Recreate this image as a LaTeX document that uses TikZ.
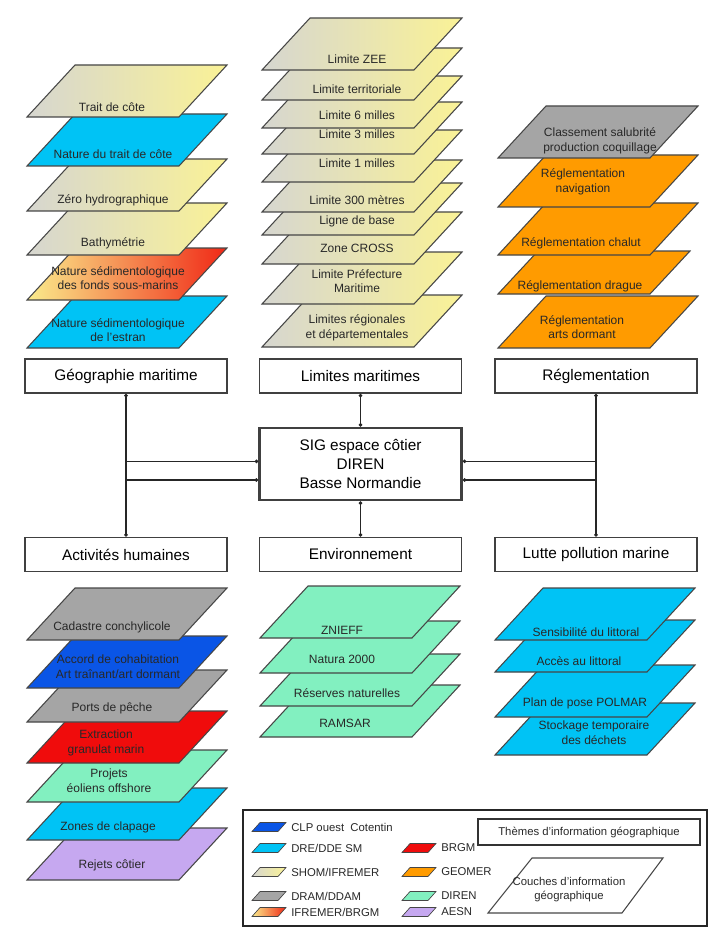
\documentclass[tikz,border=0pt]{standalone}
\usepackage{fontspec}
\setmainfont{Liberation Sans}
\usetikzlibrary{positioning}
\usetikzlibrary{arrows.meta}
\usepackage{xcolor}

\definecolor{cyanL}{RGB}{0,195,245}
\definecolor{blueL}{RGB}{10,85,230}
\definecolor{grayL}{RGB}{165,165,165}
\definecolor{redL}{RGB}{240,12,12}
\definecolor{greenL}{RGB}{130,240,192}
\definecolor{purpleL}{RGB}{198,168,240}
\definecolor{orangeL}{RGB}{255,155,0}
\definecolor{shomL}{RGB}{214,214,208}
\definecolor{shomR}{RGB}{250,242,150}
\definecolor{ifrL}{RGB}{250,236,140}
\definecolor{ifrR}{RGB}{240,40,22}
\definecolor{edgegray}{RGB}{70,70,70}
\definecolor{txtgray}{RGB}{40,40,40}

\begin{document}
\begin{tikzpicture}[x=0.75pt,y=0.75pt,yscale=-1,xscale=1,
  layer/.style={draw=edgegray, line width=0.8pt},
  shomfill/.style={left color=shomL, right color=shomR},
  ifrfill/.style={left color=ifrL, right color=ifrR},
  ltext/.style={inner sep=0.75pt, align=center, text=txtgray, font=\fontsize{9}{11}\selectfont},
  theme/.style={draw=black!75, line width=1.2pt, fill=white, minimum width=151.5pt, minimum height=25.5pt, inner sep=1pt, align=center, font=\fontsize{11.5}{14.5}\selectfont},
  conn/.style={draw=black!85, line width=0.9pt, arrows={Circle[length=2.6pt]-Circle[length=2.6pt]}},
  swatch/.style={draw=edgegray, line width=0.5pt},
  legtext/.style={anchor=west, inner sep=0.75pt, text=txtgray, font=\fontsize{8.5}{10}\selectfont}]
\useasboundingbox (0,0) rectangle (709,927);

%%%%%%%% Geographie maritime layers
%Shape: Parallelogram
\draw [layer, fill=cyanL] (27,348) -- ++(152,0) -- ++(48,-52) -- ++(-152,0) -- cycle ;
% Text Node
\node [ltext] (estran) at (118,330) {Nature sédimentologique\\de l'estran};
%Shape: Parallelogram
\draw [layer, ifrfill] (27,300) -- ++(152,0) -- ++(48,-52) -- ++(-152,0) -- cycle ;
% Text Node
\node [ltext] (fonds) at (118,278) {Nature sédimentologique\\des fonds sous-marins};
%Shape: Parallelogram
\draw [layer, shomfill] (27,255) -- ++(152,0) -- ++(48,-52) -- ++(-152,0) -- cycle ;
% Text Node
\node [ltext] (bathy) at (113,243) {Bathymétrie};
%Shape: Parallelogram
\draw [layer, shomfill] (27,211) -- ++(152,0) -- ++(48,-52) -- ++(-152,0) -- cycle ;
% Text Node
\node [ltext] (zerohydro) at (113,200) {Zéro hydrographique};
%Shape: Parallelogram
\draw [layer, fill=cyanL] (27,166) -- ++(152,0) -- ++(48,-52) -- ++(-152,0) -- cycle ;
% Text Node
\node [ltext] (naturetrait) at (113,154) {Nature du trait de côte};
%Shape: Parallelogram
\draw [layer, shomfill] (27,117) -- ++(152,0) -- ++(48,-52) -- ++(-152,0) -- cycle ;
% Text Node
\node [ltext] (traitcote) at (112,107) {Trait de côte};

%%%%%%%% Limites maritimes layers
%Shape: Parallelogram
\draw [layer, shomfill] (262,347) -- ++(152,0) -- ++(48,-52) -- ++(-152,0) -- cycle ;
% Text Node
\node [ltext] (limreg) at (357,328) {Limites régionales\\et départementales};
%Shape: Parallelogram
\draw [layer, shomfill] (262,304) -- ++(152,0) -- ++(48,-52) -- ++(-152,0) -- cycle ;
% Text Node
\node [ltext] (limpref) at (357,281) {Limite Préfecture\\Maritime};
%Shape: Parallelogram
\draw [layer, shomfill] (262,264) -- ++(152,0) -- ++(48,-52) -- ++(-152,0) -- cycle ;
% Text Node
\node [ltext] (cross) at (357,248) {Zone CROSS};
%Shape: Parallelogram
\draw [layer, shomfill] (262,235) -- ++(152,0) -- ++(48,-52) -- ++(-152,0) -- cycle ;
% Text Node
\node [ltext] (lignebase) at (357,221) {Ligne de base};
%Shape: Parallelogram
\draw [layer, shomfill] (262,212) -- ++(152,0) -- ++(48,-52) -- ++(-152,0) -- cycle ;
% Text Node
\node [ltext] (lim300) at (357,200) {Limite 300 mètres};
%Shape: Parallelogram
\draw [layer, shomfill] (262,182) -- ++(152,0) -- ++(48,-52) -- ++(-152,0) -- cycle ;
% Text Node
\node [ltext] (lim1) at (357,163) {Limite 1 milles};
%Shape: Parallelogram
\draw [layer, shomfill] (262,154) -- ++(152,0) -- ++(48,-52) -- ++(-152,0) -- cycle ;
% Text Node
\node [ltext] (lim3) at (357,134) {Limite 3 milles};
%Shape: Parallelogram
\draw [layer, shomfill] (262,128) -- ++(152,0) -- ++(48,-52) -- ++(-152,0) -- cycle ;
% Text Node
\node [ltext] (lim6) at (357,115) {Limite 6 milles};
%Shape: Parallelogram
\draw [layer, shomfill] (262,100) -- ++(152,0) -- ++(48,-52) -- ++(-152,0) -- cycle ;
% Text Node
\node [ltext] (limterr) at (357,89) {Limite territoriale};
%Shape: Parallelogram
\draw [layer, shomfill] (262,70) -- ++(152,0) -- ++(48,-52) -- ++(-152,0) -- cycle ;
% Text Node
\node [ltext] (limzee) at (357,59) {Limite ZEE};

%%%%%%%% Reglementation layers
%Shape: Parallelogram
\draw [layer, fill=orangeL] (498,348) -- ++(152,0) -- ++(48,-52) -- ++(-152,0) -- cycle ;
% Text Node
\node [ltext] (arts) at (582,327) {Réglementation\\arts dormant};
%Shape: Parallelogram
\draw [layer, fill=orangeL] (498,294) -- ++(152,0) -- ++(40,-43) -- ++(-152,0) -- cycle ;
% Text Node
\node [ltext] (drague) at (580,286) {Réglementation drague};
%Shape: Parallelogram
\draw [layer, fill=orangeL] (498,255) -- ++(152,0) -- ++(48,-52) -- ++(-152,0) -- cycle ;
% Text Node
\node [ltext] (chalut) at (581,243) {Réglementation chalut};
%Shape: Parallelogram
\draw [layer, fill=orangeL] (498,207) -- ++(152,0) -- ++(48,-52) -- ++(-152,0) -- cycle ;
% Text Node
\node [ltext] (navig) at (583,182) {Réglementation\\navigation};
%Shape: Parallelogram
\draw [layer, fill=grayL] (498,158) -- ++(152,0) -- ++(48,-52) -- ++(-152,0) -- cycle ;
% Text Node
\node [ltext] (classement) at (600,141) {Classement salubrité\\production coquillage};

%%%%%%%% themes and central box
% Text Node
\node [theme] (geo) at (126,376) {Géographie maritime};
% Text Node
\node [theme] (lim) at (360.5,376) {Limites maritimes};
% Text Node
\node [theme] (regl) at (596,376) {Réglementation};
% Text Node
\node [theme, line width=2pt, minimum height=54pt] (sig) at (360.5,464) {SIG espace côtier\\DIREN\\Basse Normandie};
% Text Node
\node [theme] (act) at (126,554.5) {Activités humaines};
% Text Node
\node [theme] (env) at (360.5,554.5) {Environnement};
% Text Node
\node [theme] (lutte) at (596,554.5) {Lutte pollution marine};

%Straight Lines
\draw [conn] (geo.south) |- ([yshift=12pt]sig.west) ;
\draw [conn] ([yshift=-2pt]sig.west) -| (act.north) ;
\draw [conn] (lim.south) -- (sig.north) ;
\draw [conn] (sig.south) -- (env.north) ;
\draw [conn] (regl.south) |- ([yshift=12pt]sig.east) ;
\draw [conn] ([yshift=-2pt]sig.east) -| (lutte.north) ;

%%%%%%%% Activites humaines layers
%Shape: Parallelogram
\draw [layer, fill=purpleL] (27,880) -- ++(152,0) -- ++(48,-52) -- ++(-152,0) -- cycle ;
% Text Node
\node [ltext] (rejets) at (112,865) {Rejets côtier};
%Shape: Parallelogram
\draw [layer, fill=cyanL] (27,840) -- ++(152,0) -- ++(48,-52) -- ++(-152,0) -- cycle ;
% Text Node
\node [ltext] (clapage) at (108,827) {Zones de clapage};
%Shape: Parallelogram
\draw [layer, fill=greenL] (27,802) -- ++(152,0) -- ++(48,-52) -- ++(-152,0) -- cycle ;
% Text Node
\node [ltext] (eoliens) at (109,781) {Projets\\éoliens offshore};
%Shape: Parallelogram
\draw [layer, fill=redL] (27,763) -- ++(152,0) -- ++(48,-52) -- ++(-152,0) -- cycle ;
% Text Node
\node [ltext] (granulat) at (106,743) {Extraction\\granulat marin};
%Shape: Parallelogram
\draw [layer, fill=grayL] (27,722) -- ++(152,0) -- ++(48,-52) -- ++(-152,0) -- cycle ;
% Text Node
\node [ltext] (ports) at (112,708) {Ports de pêche};
%Shape: Parallelogram
\draw [layer, fill=blueL] (27,688) -- ++(152,0) -- ++(48,-52) -- ++(-152,0) -- cycle ;
% Text Node
\node [ltext] (accord) at (118,667) {Accord de cohabitation\\Art traînant/art dormant};
%Shape: Parallelogram
\draw [layer, fill=grayL] (27,640) -- ++(152,0) -- ++(48,-52) -- ++(-152,0) -- cycle ;
% Text Node
\node [ltext] (cadastre) at (112,627) {Cadastre conchylicole};

%%%%%%%% Environnement layers
%Shape: Parallelogram
\draw [layer, fill=greenL] (260,737) -- ++(152,0) -- ++(48,-52) -- ++(-152,0) -- cycle ;
% Text Node
\node [ltext] (ramsar) at (345,723) {RAMSAR};
%Shape: Parallelogram
\draw [layer, fill=greenL] (260,706) -- ++(152,0) -- ++(48,-52) -- ++(-152,0) -- cycle ;
% Text Node
\node [ltext] (reserves) at (347,693) {Réserves naturelles};
%Shape: Parallelogram
\draw [layer, fill=greenL] (260,673) -- ++(152,0) -- ++(48,-52) -- ++(-152,0) -- cycle ;
% Text Node
\node [ltext] (natura) at (342,659) {Natura 2000};
%Shape: Parallelogram
\draw [layer, fill=greenL] (260,638) -- ++(152,0) -- ++(48,-52) -- ++(-152,0) -- cycle ;
% Text Node
\node [ltext] (znieff) at (342,630) {ZNIEFF};

%%%%%%%% Lutte pollution marine layers
%Shape: Parallelogram
\draw [layer, fill=cyanL] (495,755) -- ++(152,0) -- ++(48,-52) -- ++(-152,0) -- cycle ;
% Text Node
\node [ltext] (stockage) at (594,733) {Stockage temporaire\\des déchets};
%Shape: Parallelogram
\draw [layer, fill=cyanL] (495,717) -- ++(152,0) -- ++(48,-52) -- ++(-152,0) -- cycle ;
% Text Node
\node [ltext] (polmar) at (585,703) {Plan de pose POLMAR};
%Shape: Parallelogram
\draw [layer, fill=cyanL] (495,672) -- ++(152,0) -- ++(48,-52) -- ++(-152,0) -- cycle ;
% Text Node
\node [ltext] (acces) at (579,661) {Accès au littoral};
%Shape: Parallelogram
\draw [layer, fill=cyanL] (495,640) -- ++(152,0) -- ++(48,-52) -- ++(-152,0) -- cycle ;
% Text Node
\node [ltext] (sensib) at (586,632) {Sensibilité du littoral};

%%%%%%%% legend
%Shape: Rectangle
\draw [black!85, line width=1.5pt] (243,810) rectangle (707,926) ;
%Shape: Parallelogram
\draw [swatch, fill=blueL] (252,831.5) -- ++(26,0) -- ++(8,-9) -- ++(-26,0) -- cycle ;
\node [legtext] (lclp) at (290,827) {CLP ouest\ \ Cotentin};
\draw [swatch, fill=cyanL] (252,852.5) -- ++(26,0) -- ++(8,-9) -- ++(-26,0) -- cycle ;
\node [legtext] (ldre) at (290,848) {DRE/DDE SM};
\draw [swatch, shomfill] (252,876.5) -- ++(26,0) -- ++(8,-9) -- ++(-26,0) -- cycle ;
\node [legtext] (lshom) at (290,872) {SHOM/IFREMER};
\draw [swatch, fill=grayL] (252,900.5) -- ++(26,0) -- ++(8,-9) -- ++(-26,0) -- cycle ;
\node [legtext] (ldram) at (290,896) {DRAM/DDAM};
\draw [swatch, ifrfill] (252,916.5) -- ++(26,0) -- ++(8,-9) -- ++(-26,0) -- cycle ;
\node [legtext] (lifr) at (290,912) {IFREMER/BRGM};
\draw [swatch, fill=redL] (402,852.5) -- ++(26,0) -- ++(8,-9) -- ++(-26,0) -- cycle ;
\node [legtext] (lbrgm) at (440,848) {BRGM};
\draw [swatch, fill=orangeL] (402,876.5) -- ++(26,0) -- ++(8,-9) -- ++(-26,0) -- cycle ;
\node [legtext] (lgeomer) at (440,872) {GEOMER};
\draw [swatch, fill=greenL] (402,900.5) -- ++(26,0) -- ++(8,-9) -- ++(-26,0) -- cycle ;
\node [legtext] (ldiren) at (440,896) {DIREN};
\draw [swatch, fill=purpleL] (402,916.5) -- ++(26,0) -- ++(8,-9) -- ++(-26,0) -- cycle ;
\node [legtext] (laesn) at (440,912) {AESN};
% Text Node
\node [draw=black!80, line width=1.2pt, minimum width=166.5pt, minimum height=19.5pt, inner sep=1pt, text=txtgray, font=\fontsize{8.5}{10}\selectfont] (lthemes) at (589,832) {Thèmes d'information géographique};
%Shape: Parallelogram
\draw [layer] (488,913) -- (622,913) -- (663,858) -- (532,858) -- cycle ;
% Text Node
\node [ltext, font=\fontsize{8.5}{10.5}\selectfont] (lcouches) at (569,890) {Couches d'information\\géographique};

\end{tikzpicture}
\end{document}
